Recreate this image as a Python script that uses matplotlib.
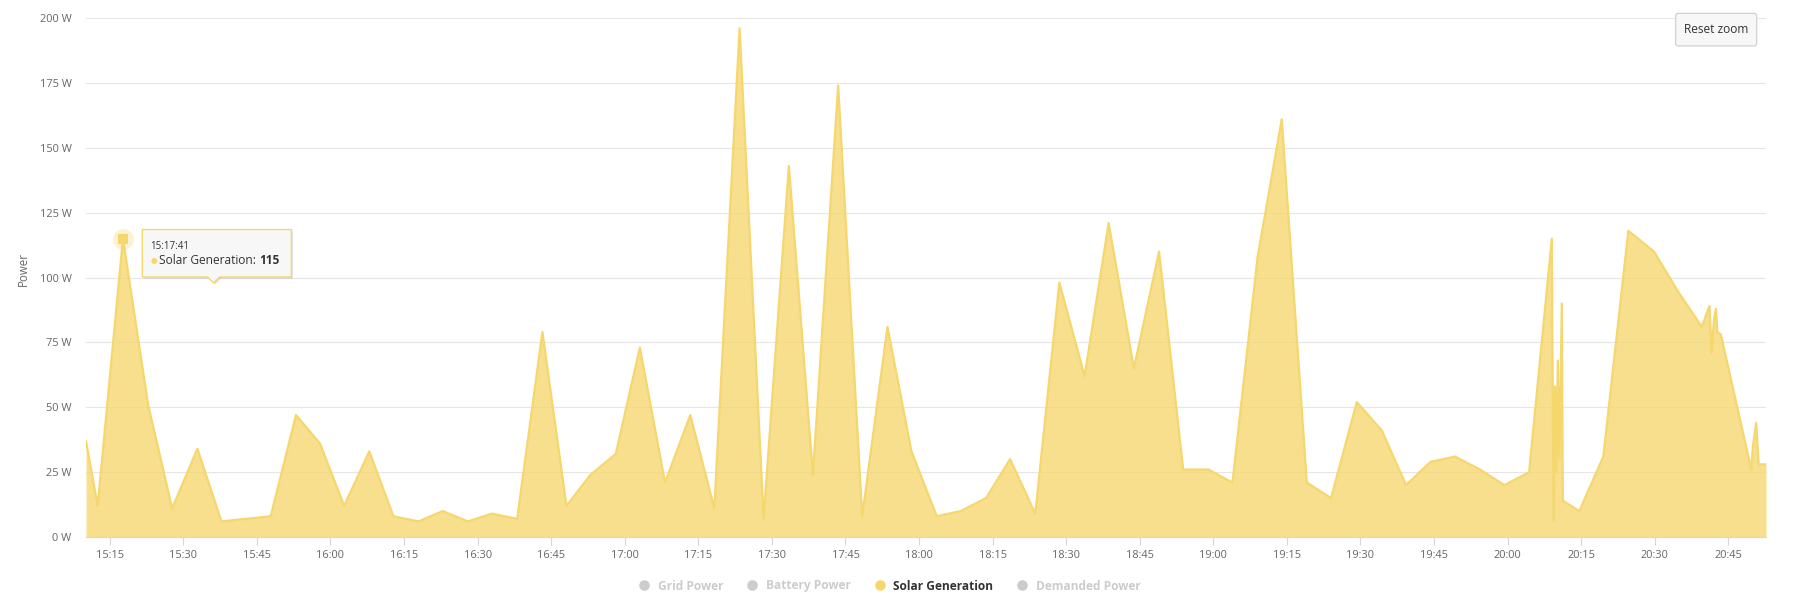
import matplotlib
matplotlib.use("Agg")
import matplotlib.pyplot as plt
import matplotlib.dates as mdates
from matplotlib.patches import Polygon, FancyBboxPatch
from matplotlib.lines import Line2D
from matplotlib.transforms import IdentityTransform
import pandas as pd

# ---------------- data ----------------
times = [
    "15:10:09", "15:12:32", "15:17:41", "15:22:49", "15:27:43", "15:32:52", "15:37:46",
    "15:42:47", "15:47:49", "15:52:58", "15:57:52", "16:02:47", "16:07:55", "16:12:50",
    "16:17:58", "16:22:53", "16:28:01", "16:32:56", "16:38:04", "16:43:13", "16:48:07",
    "16:53:02", "16:58:10", "17:03:05", "17:08:13", "17:13:22", "17:18:16", "17:23:25",
    "17:28:19", "17:33:28", "17:38:22", "17:43:31", "17:48:25", "17:53:34", "17:58:28",
    "18:03:37", "18:08:31", "18:13:40", "18:18:34", "18:23:43", "18:28:37", "18:33:46",
    "18:38:40", "18:43:49", "18:48:57", "18:53:52", "18:59:00", "19:03:55", "19:09:03",
    "19:13:58", "19:19:04", "19:24:01", "19:29:16", "19:34:23", "19:39:18", "19:44:20",
    "19:49:18", "19:54:24", "19:59:22", "20:04:24", "20:09:02", "20:09:12", "20:09:24",
    "20:09:42", "20:10:00", "20:10:15", "20:10:36", "20:11:04", "20:11:16", "20:14:38",
    "20:19:32", "20:24:38", "20:29:52", "20:34:38", "20:39:36", "20:41:10", "20:41:38",
    "20:42:06", "20:42:30", "20:42:46", "20:43:30", "20:49:42", "20:50:02", "20:50:42",
    "20:51:12", "20:52:42",
]
solar_w = [
    37, 12, 115, 51, 11, 34, 6,
    7, 8, 47, 36, 12, 33, 8,
    6, 10, 6, 9, 7, 79, 12,
    24, 32, 73, 21, 47, 11, 196,
    7, 143, 24, 174, 8, 81, 33,
    8, 10, 15, 30, 9, 98, 62,
    121, 65, 110, 26, 26, 21, 108,
    161, 21, 15, 52, 41, 20, 29,
    31, 26, 20, 25, 115, 58, 6,
    58, 25, 68, 30, 90, 14, 10,
    31, 118, 110, 95, 81, 89, 71,
    84, 88, 79, 78, 26, 35, 44,
    28, 28,
]
y_ticks = [0, 25, 50, 75, 100, 125, 150, 175, 200]
y_tick_labels = [f"{v} W" for v in y_ticks]
legend_labels = ["Grid Power", "Battery Power", "Solar Generation", "Demanded Power"]
legend_active = [False, False, True, False]
tooltip_time = "15:17:41"
tooltip_value = 115
tooltip_series = "Solar Generation"
y_title = "Power"
button_text = "Reset zoom"

# ---------------- style ----------------
FONT = "Open Sans"
LINE = "#F5D76E"
GRID = "#e6e6e6"
AXIS = "#d6d6d6"
LABEL = "#666666"
W, H = 1797, 607
plt.rcParams["font.family"] = [FONT, "DejaVu Sans"]

DAY = "2024-01-01 "
t = pd.to_datetime([DAY + s for s in times])
tt = pd.to_datetime(DAY + tooltip_time)

fig = plt.figure(figsize=(W / 100, H / 100), dpi=100)
x0, x1, ytop, ybot = 86, 1766, 18, 537
ax = fig.add_axes([x0 / W, 1 - ybot / H, (x1 - x0) / W, (ybot - ytop) / H])

ax.fill_between(t, solar_w, 0, color=LINE, alpha=0.78, lw=0, zorder=2)
ax.plot(t, solar_w, color=LINE, lw=1.6, solid_joinstyle="round", zorder=3)

ax.set_ylim(0, 200)
ax.set_xlim(t[0], t[-1])
ax.set_yticks(y_ticks)
ax.set_yticklabels(y_tick_labels)
ax.yaxis.grid(True, color=GRID, lw=0.8, zorder=0)
ax.set_axisbelow(True)
ax.xaxis.set_major_locator(mdates.MinuteLocator(byminute=[0, 15, 30, 45]))
ax.xaxis.set_major_formatter(mdates.DateFormatter("%H:%M"))
for s in ["top", "right", "left"]:
    ax.spines[s].set_visible(False)
ax.spines["bottom"].set_color(AXIS)
ax.spines["bottom"].set_linewidth(0.8)
ax.spines["bottom"].set_zorder(4)
ax.tick_params(axis="y", length=0, pad=10.5, labelsize=7.9, labelcolor=LABEL)
ax.tick_params(axis="x", length=6, width=0.8, color=AXIS, pad=3.5,
               labelsize=7.9, labelcolor=LABEL)

fig.text(23.3 / W, 1 - 269 / H, y_title, rotation=90, ha="center", va="center",
         fontsize=8.3, color=LABEL)

# hovered point marker
ax.plot([tt], [tooltip_value], marker="o", ms=15, color=LINE, alpha=0.3,
        ls="", zorder=5, mew=0)
ax.plot([tt], [tooltip_value], marker="s", ms=7.2, color=LINE, ls="", zorder=6,
        mew=0)

# tooltip
fig.canvas.draw()
mx, my = ax.transData.transform((mdates.date2num(tt), tooltip_value))
bl, br, bt, bb = mx + 19.4, mx + 168.4, my + 9, my - 38.4
pts = [(bl, bt), (br, bt), (br, bb), (mx + 96.7, bb), (mx + 90.7, bb - 6),
       (mx + 84.7, bb), (bl, bb)]
shadow = Polygon([(x + 1.5, y - 1.5) for x, y in pts], closed=True,
                 transform=IdentityTransform(), fc="#000000", alpha=0.12, ec="none",
                 zorder=7)
box = Polygon(pts, closed=True, transform=IdentityTransform(), fc="#f7f7f7",
              ec=LINE, lw=1.0, zorder=8, joinstyle="round")
fig.add_artist(shadow)
fig.add_artist(box)
fig.text(mx + 27.4, my - 7.6, tooltip_time, transform=IdentityTransform(),
         fontsize=7.0, color="#333333", ha="left", va="center", zorder=9)
fig.text(mx + 30.5, my - 21.9, "●", transform=IdentityTransform(), fontsize=5.5,
         color=LINE, ha="center", va="center", zorder=9, family="DejaVu Sans")
t1 = fig.text(mx + 36.5, my - 21.9, f"{tooltip_series}: ", transform=IdentityTransform(),
              fontsize=8.6, color="#333333", ha="left", va="center", zorder=9)
fig.canvas.draw()
r = fig.canvas.get_renderer()
wext = t1.get_window_extent(r)
fig.text(wext.x1, my - 21.9, str(tooltip_value), transform=IdentityTransform(),
         fontsize=8.6, color="#333333", ha="left", va="center", zorder=9,
         fontweight="bold")

# legend
handles = [Line2D([], [], marker="o", ls="", ms=7.6, mew=0,
                  color=(LINE if a else "#cccccc")) for a in legend_active]
leg = fig.legend(handles, legend_labels, loc="center", ncol=4, frameon=False,
                 bbox_to_anchor=(890 / W, 1 - 586 / H), handlelength=0.8,
                 handletextpad=0.75, columnspacing=2.0,
                 prop={"family": FONT, "size": 8.6, "weight": "bold"})
for txt, a in zip(leg.get_texts(), legend_active):
    txt.set_color("#333333" if a else "#cccccc")

# reset zoom button
bx0, by0, bx1, by1 = 1675.7, 13.3, 1756.7, 46
btn = FancyBboxPatch((bx0, H - by1), bx1 - bx0, by1 - by0,
                     boxstyle="round,pad=0,rounding_size=2.5",
                     transform=IdentityTransform(), fc="#f7f7f7", ec="#cccccc",
                     lw=0.8, zorder=10)
fig.add_artist(btn)
fig.text((bx0 + bx1) / 2, H - (by0 + by1) / 2, button_text,
         transform=IdentityTransform(), ha="center", va="center", fontsize=8.6,
         color="#333333", zorder=11)

fig.savefig("out.png", dpi=100)
